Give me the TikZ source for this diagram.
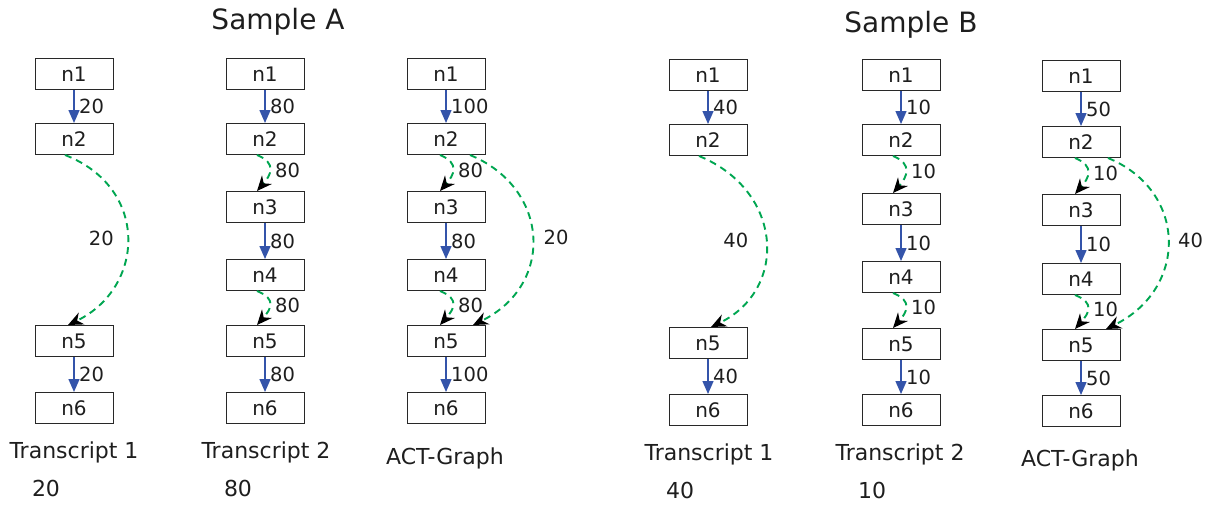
\documentclass[tikz,border=0pt]{standalone}
\usepackage{fontspec}
\setmainfont{DejaVu Sans}
\usetikzlibrary{arrows.meta}

\definecolor{flowblue}{RGB}{52,84,170}
\definecolor{skipgreen}{RGB}{0,166,81}
\definecolor{boxgray}{RGB}{40,40,40}
\definecolor{ink}{RGB}{30,30,30}

\tikzset{
  box/.style={draw=boxgray, line width=1pt, minimum width=78pt, minimum height=31pt,
    inner sep=0pt, text=ink, font=\fontsize{20}{20}\selectfont},
  flow/.style={flowblue, line width=1.4pt, -{Triangle[length=13pt, width=11pt]}},
  jump/.style={skipgreen, line width=1.9pt, dash pattern=on 7pt off 5pt,
    -{Stealth[black, length=15pt, width=13pt]}},
  lbl/.style={text=ink, font=\fontsize{19.5}{19.5}\selectfont, inner sep=4.5pt},
  title/.style={text=ink, font=\fontsize{28}{28}\selectfont},
  caption/.style={text=ink, font=\fontsize{22}{22}\selectfont}
}

\begin{document}
\begin{tikzpicture}[x=1pt, y=-1pt]
    \useasboundingbox (0,0) rectangle (1206,504);

    % titles
    \node[title] (tA) at (278,22) {Sample A};
    \node[title] (tB) at (911,25) {Sample B};

    % Sample A, transcript 1
    \node[box] (a1n1) at (74,74) {n1};
    \node[box] (a1n2) at (74,139) {n2};
    \node[box] (a1n5) at (74,341) {n5};
    \node[box] (a1n6) at (74,408) {n6};
    \draw[flow] (a1n1) -- node[lbl, right] {20} (a1n2);
    \draw[jump] ([xshift=-9pt]a1n2.south) .. controls +(85,33) and +(77,-37) .. node[lbl, pos=0.5, left=8pt] {20} ([xshift=-6pt]a1n5.north);
    \draw[flow] (a1n5) -- node[lbl, right] {20} (a1n6);

    % Sample A, transcript 2
    \node[box] (a2n1) at (265,74) {n1};
    \node[box] (a2n2) at (265,139) {n2};
    \node[box] (a2n3) at (265,207) {n3};
    \node[box] (a2n4) at (265,275) {n4};
    \node[box] (a2n5) at (265,341) {n5};
    \node[box] (a2n6) at (265,408) {n6};
    \draw[flow] (a2n1) -- node[lbl, right] {80} (a2n2);
    \draw[jump] ([xshift=-8pt]a2n2.south) .. controls +(20,8) and +(14,-16) .. node[lbl, right] {80} ([xshift=-8pt]a2n3.north);
    \draw[flow] (a2n3) -- node[lbl, right] {80} (a2n4);
    \draw[jump] ([xshift=-8pt]a2n4.south) .. controls +(20,8) and +(14,-16) .. node[lbl, right] {80} ([xshift=-8pt]a2n5.north);
    \draw[flow] (a2n5) -- node[lbl, right] {80} (a2n6);

    % Sample A, ACT-Graph
    \node[box] (a3n1) at (446,74) {n1};
    \node[box] (a3n2) at (446,139) {n2};
    \node[box] (a3n3) at (446,207) {n3};
    \node[box] (a3n4) at (446,275) {n4};
    \node[box] (a3n5) at (446,341) {n5};
    \node[box] (a3n6) at (446,408) {n6};
    \draw[flow] (a3n1) -- node[lbl, right] {100} (a3n2);
    \draw[jump] ([xshift=-6pt]a3n2.south) .. controls +(20,8) and +(14,-16) .. node[lbl, right] {80} ([xshift=-6pt]a3n3.north);
    \draw[flow] (a3n3) -- node[lbl, right] {80} (a3n4);
    \draw[jump] ([xshift=-6pt]a3n4.south) .. controls +(20,8) and +(14,-16) .. node[lbl, right] {80} ([xshift=-6pt]a3n5.north);
    \draw[jump] ([xshift=24pt]a3n2.south) .. controls +(80,33) and +(82,-40) .. node[lbl, pos=0.5, right=6pt] {20} ([xshift=27pt]a3n5.north);
    \draw[flow] (a3n5) -- node[lbl, right] {100} (a3n6);

    % Sample B, transcript 1
    \node[box] (b1n1) at (708,75) {n1};
    \node[box] (b1n2) at (708,140) {n2};
    \node[box] (b1n5) at (708,343) {n5};
    \node[box] (b1n6) at (708,410) {n6};
    \draw[flow] (b1n1) -- node[lbl, right] {40} (b1n2);
    \draw[jump] ([xshift=-9pt]b1n2.south) .. controls +(85,35) and +(77,-37) .. node[lbl, pos=0.5, left=12pt] {40} ([xshift=3pt]b1n5.north);
    \draw[flow] (b1n5) -- node[lbl, right] {40} (b1n6);

    % Sample B, transcript 2
    \node[box] (b2n1) at (901,75) {n1};
    \node[box] (b2n2) at (901,140) {n2};
    \node[box] (b2n3) at (901,209) {n3};
    \node[box] (b2n4) at (901,277) {n4};
    \node[box] (b2n5) at (901,344) {n5};
    \node[box] (b2n6) at (901,410) {n6};
    \draw[flow] (b2n1) -- node[lbl, right] {10} (b2n2);
    \draw[jump] ([xshift=-8pt]b2n2.south) .. controls +(20,8) and +(14,-16) .. node[lbl, right] {10} ([xshift=-8pt]b2n3.north);
    \draw[flow] (b2n3) -- node[lbl, right] {10} (b2n4);
    \draw[jump] ([xshift=-8pt]b2n4.south) .. controls +(20,8) and +(14,-16) .. node[lbl, right] {10} ([xshift=-8pt]b2n5.north);
    \draw[flow] (b2n5) -- node[lbl, right] {10} (b2n6);

    % Sample B, ACT-Graph
    \node[box] (b3n1) at (1081,76) {n1};
    \node[box] (b3n2) at (1081,142) {n2};
    \node[box] (b3n3) at (1081,210) {n3};
    \node[box] (b3n4) at (1081,279) {n4};
    \node[box] (b3n5) at (1081,345) {n5};
    \node[box] (b3n6) at (1081,411) {n6};
    \draw[flow] (b3n1) -- node[lbl, right] {50} (b3n2);
    \draw[jump] ([xshift=-6pt]b3n2.south) .. controls +(20,8) and +(14,-16) .. node[lbl, right] {10} ([xshift=-6pt]b3n3.north);
    \draw[flow] (b3n3) -- node[lbl, right] {10} (b3n4);
    \draw[jump] ([xshift=-6pt]b3n4.south) .. controls +(20,8) and +(14,-16) .. node[lbl, right] {10} ([xshift=-6pt]b3n5.north);
    \draw[jump] ([xshift=27pt]b3n2.south) .. controls +(80,33) and +(82,-40) .. node[lbl, pos=0.5, right=5pt] {40} ([xshift=25pt]b3n5.north);
    \draw[flow] (b3n5) -- node[lbl, right] {50} (b3n6);

    % captions and counts
    \node[caption] (ca1) at (74,452) {Transcript 1};
    \node[caption] (va1) at (46,488) {20};
    \node[caption] (ca2) at (266,452) {Transcript 2};
    \node[caption] (va2) at (238,488) {80};
    \node[caption] (ca3) at (445,458) {ACT-Graph};
    \node[caption] (cb1) at (709,454) {Transcript 1};
    \node[caption] (vb1) at (680,490) {40};
    \node[caption] (cb2) at (900,454) {Transcript 2};
    \node[caption] (vb2) at (872,490) {10};
    \node[caption] (cb3) at (1080,460) {ACT-Graph};
\end{tikzpicture}
\end{document}
